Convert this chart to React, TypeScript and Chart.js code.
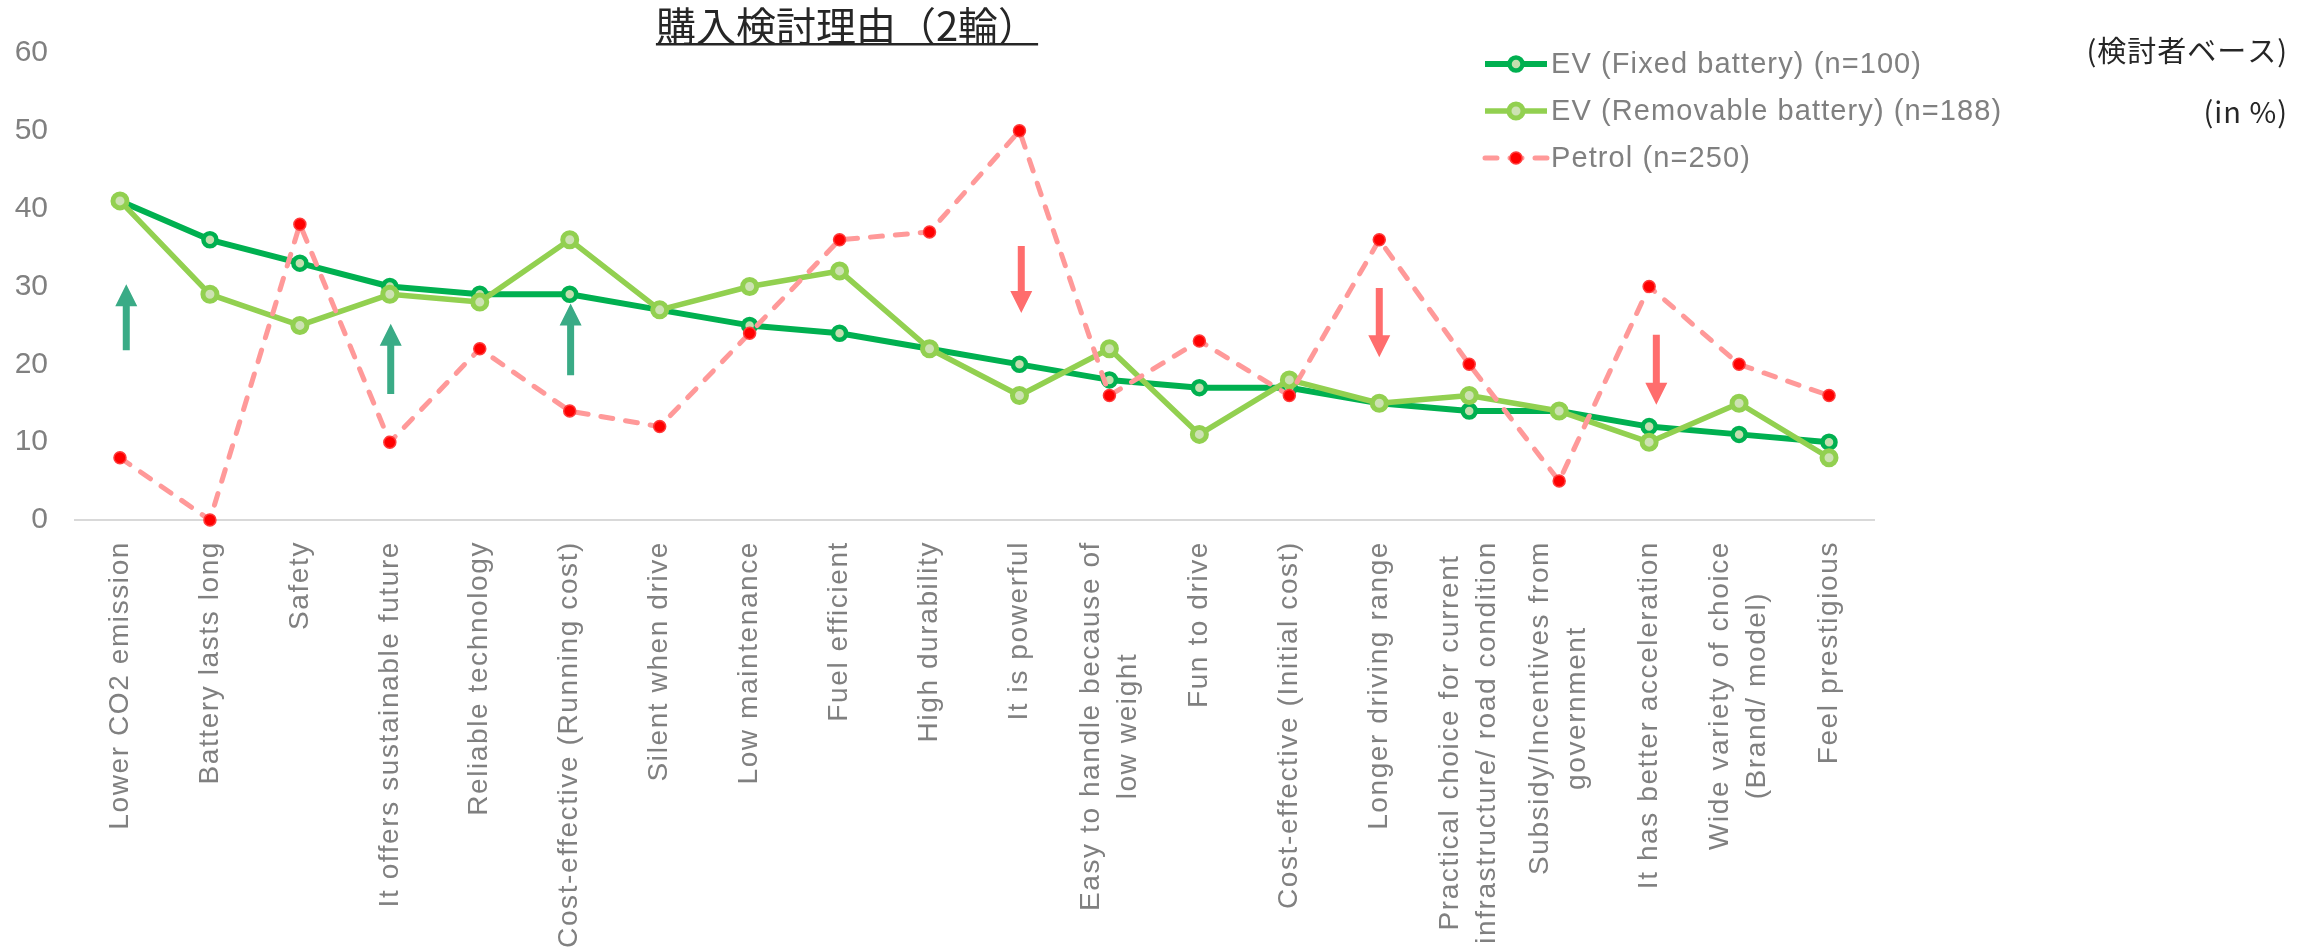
import React, { useEffect, useRef } from "react";
import { Chart, registerables } from "chart.js";

Chart.register(...registerables);

// ---------- text ----------
const TITLE = "購入検討理由（2輪）";
const NOTE_BASE = "(検討者ベース)";
const NOTE_UNIT = "(in %)";

// ---------- categories (each entry = lines of the label) ----------
const CATEGORIES: string[][] = [
  ["Lower CO2 emission"],
  ["Battery lasts long"],
  ["Safety"],
  ["It offers sustainable future"],
  ["Reliable technology"],
  ["Cost-effective (Running cost)"],
  ["Silent when drive"],
  ["Low maintenance"],
  ["Fuel efficient"],
  ["High durability"],
  ["It is powerful"],
  ["Easy to handle because of", "low weight"],
  ["Fun to drive"],
  ["Cost-effective (Initial cost)"],
  ["Longer driving range"],
  ["Practical choice for current", "infrastructure/ road condition"],
  ["Subsidy/Incentives from", "government"],
  ["It has better acceleration"],
  ["Wide variety of choice", "(Brand/ model)"],
  ["Feel prestigious"],
];

// ---------- series ----------
const SERIES_NAMES = [
  "EV (Fixed battery) (n=100)",
  "EV (Removable battery) (n=188)",
  "Petrol (n=250)",
];
const EV_FIXED = [41, 36, 33, 30, 29, 29, 27, 25, 24, 22, 20, 18, 17, 17, 15, 14, 14, 12, 11, 10];
const EV_REMOVABLE = [41, 29, 25, 29, 28, 36, 27, 30, 32, 22, 16, 22, 11, 18, 15, 16, 14, 10, 15, 8];
const PETROL = [8, 0, 38, 10, 22, 14, 12, 24, 36, 37, 50, 16, 23, 16, 36, 20, 5, 30, 20, 16];

// ---------- y axis ----------
const Y_MIN = 0;
const Y_MAX = 60;
const Y_STEP = 10;

// ---------- annotation arrows (category index, small shift, from value, to value) ----------
const UP_ARROW_CATS = [0, 3, 5];
const UP_ARROW_SHIFT = [0.07, 0.01, 0.01];
const UP_ARROW_FROM = [21.8, 16.2, 18.6];
const UP_ARROW_TO = [30.3, 25.2, 27.8];
const DOWN_ARROW_CATS = [10, 14, 17];
const DOWN_ARROW_SHIFT = [0.02, 0.0, 0.08];
const DOWN_ARROW_FROM = [35.2, 29.8, 23.8];
const DOWN_ARROW_TO = [26.6, 20.9, 14.8];

// ---------- styles ----------
const DARK_GREEN = "#00b050";
const LIGHT_GREEN = "#92d050";
const PETROL_LINE = "#ff9999";
const PETROL_POINT = "#ff0000";
const TEAL = "#3aab86";
const SALMON = "#ff6d6d";
const GRAY = "#808080";
const LATIN = '"Liberation Sans", Arial, sans-serif';
const CJK = '"Noto Sans CJK JP", "Noto Sans", sans-serif';

function drawArrow(ctx: CanvasRenderingContext2D, x: number, yFrom: number, yTo: number, color: string) {
  const shaftW = 7;
  const headW = 22;
  const headL = 22;
  const dir = yTo < yFrom ? -1 : 1;
  const headBase = yTo - dir * headL;
  ctx.save();
  ctx.fillStyle = color;
  ctx.beginPath();
  ctx.moveTo(x - shaftW / 2, yFrom);
  ctx.lineTo(x - shaftW / 2, headBase);
  ctx.lineTo(x - headW / 2, headBase);
  ctx.lineTo(x, yTo);
  ctx.lineTo(x + headW / 2, headBase);
  ctx.lineTo(x + shaftW / 2, headBase);
  ctx.lineTo(x + shaftW / 2, yFrom);
  ctx.closePath();
  ctx.fill();
  ctx.restore();
}

const decorPlugin = {
  id: "decor",
  beforeDatasetsDraw(chart: any) {
    const ctx: CanvasRenderingContext2D = chart.ctx;
    const xs = chart.scales.x;
    const ys = chart.scales.y;
    UP_ARROW_CATS.forEach((c, i) => {
      const x = xs.getPixelForValue(c + UP_ARROW_SHIFT[i]);
      drawArrow(ctx, x, ys.getPixelForValue(UP_ARROW_FROM[i]), ys.getPixelForValue(UP_ARROW_TO[i]), TEAL);
    });
    DOWN_ARROW_CATS.forEach((c, i) => {
      const x = xs.getPixelForValue(c + DOWN_ARROW_SHIFT[i]);
      drawArrow(ctx, x, ys.getPixelForValue(DOWN_ARROW_FROM[i]), ys.getPixelForValue(DOWN_ARROW_TO[i]), SALMON);
    });
  },
  afterDraw(chart: any) {
    const ctx: CanvasRenderingContext2D = chart.ctx;
    const xs = chart.scales.x;

    // x-axis category labels (rotated, multi-line blocks centred)
    ctx.save();
    ctx.font = `28px ${LATIN}`;
    (ctx as any).letterSpacing = "1.6px";
    ctx.fillStyle = GRAY;
    ctx.textBaseline = "middle";
    ctx.textAlign = "center";
    CATEGORIES.forEach((lines, i) => {
      const px = xs.getPixelForTick(i);
      const maxW = Math.max(...lines.map((l) => ctx.measureText(l).width));
      ctx.save();
      ctx.translate(px, xs.top + 21);
      ctx.rotate(-Math.PI / 2);
      lines.forEach((l, j) => {
        const off = (j - (lines.length - 1) / 2) * 37;
        ctx.fillText(l, -maxW / 2, off);
      });
      ctx.restore();
    });
    ctx.restore();

    // legend
    const legX0 = 1485;
    const legX1 = 1547;
    const legMX = 1516;
    const legTX = 1551;
    const legY = [64, 111, 158];
    const ds = chart.data.datasets;
    ds.forEach((d: any, i: number) => {
      const y = legY[i];
      ctx.save();
      ctx.strokeStyle = d.borderColor;
      ctx.lineWidth = d.borderWidth;
      ctx.lineCap = d.borderDash ? "round" : "butt";
      ctx.setLineDash(d.borderDash || []);
      ctx.beginPath();
      ctx.moveTo(legX0, y);
      ctx.lineTo(legX1, y);
      ctx.stroke();
      ctx.setLineDash([]);
      ctx.beginPath();
      ctx.arc(legMX, y, d.pointRadius, 0, Math.PI * 2);
      ctx.fillStyle = d.pointBackgroundColor;
      ctx.fill();
      ctx.lineWidth = d.pointBorderWidth;
      ctx.strokeStyle = d.pointBorderColor;
      ctx.stroke();
      ctx.font = `29px ${LATIN}`;
      (ctx as any).letterSpacing = "1.1px";
      ctx.fillStyle = GRAY;
      ctx.textBaseline = "middle";
      ctx.textAlign = "left";
      ctx.fillText(d.label, legTX, y + 1);
      ctx.restore();
    });

    // title with underline
    ctx.save();
    ctx.font = `40px ${CJK}`;
    ctx.fillStyle = "#262626";
    ctx.textBaseline = "middle";
    ctx.textAlign = "center";
    const tcx = 847;
    ctx.fillText(TITLE, tcx, 26);
    const tw = ctx.measureText(TITLE).width;
    ctx.fillRect(tcx - tw / 2, 43, tw, 2.5);
    ctx.restore();

    // notes
    ctx.save();
    ctx.font = `29px ${CJK}`;
    ctx.fillStyle = "#262626";
    ctx.textBaseline = "middle";
    ctx.textAlign = "right";
    (ctx as any).letterSpacing = "1px";
    ctx.fillText(NOTE_BASE, 2288, 51);
    ctx.fillText(NOTE_UNIT, 2288, 112);
    ctx.restore();
  },
};

export default function App() {
  const ref = useRef<HTMLCanvasElement>(null);

  useEffect(() => {
    const canvas = ref.current;
    if (!canvas) return;
    const chart = new Chart(canvas, {
      type: "line",
      data: {
        labels: CATEGORIES,
        datasets: [
          {
            label: SERIES_NAMES[0],
            data: EV_FIXED,
            borderColor: DARK_GREEN,
            borderWidth: 6,
            pointRadius: 6.5,
            pointBorderWidth: 4.5,
            pointBackgroundColor: "#c3dfae",
            pointBorderColor: DARK_GREEN,
            tension: 0,
            order: 3,
            clip: false,
            borderJoinStyle: "round",
          } as any,
          {
            label: SERIES_NAMES[1],
            data: EV_REMOVABLE,
            borderColor: LIGHT_GREEN,
            borderWidth: 5.5,
            pointRadius: 7,
            pointBorderWidth: 5,
            pointBackgroundColor: "#cde2b3",
            pointBorderColor: LIGHT_GREEN,
            tension: 0,
            order: 2,
            clip: false,
            borderJoinStyle: "round",
          } as any,
          {
            label: SERIES_NAMES[2],
            data: PETROL,
            borderColor: PETROL_LINE,
            borderWidth: 5,
            borderDash: [12, 13],
            borderCapStyle: "round",
            pointRadius: 6,
            pointBorderWidth: 1.5,
            pointBackgroundColor: PETROL_POINT,
            pointBorderColor: "#ff3b3b",
            tension: 0,
            order: 1,
            clip: false,
          } as any,
        ],
      },
      options: {
        animation: false,
        responsive: false,
        devicePixelRatio: 1,
        layout: { padding: { left: 0, right: 433, top: 53, bottom: 0 } },
        plugins: {
          legend: { display: false },
          tooltip: { enabled: false },
          title: { display: false },
        },
        scales: {
          x: {
            type: "category",
            offset: true,
            grid: { display: false, drawTicks: false },
            border: { display: true, color: "#d9d9d9", width: 2 },
            ticks: { display: false },
            afterFit: (s: any) => {
              s.height = 430;
            },
          },
          y: {
            min: Y_MIN,
            max: Y_MAX,
            ticks: {
              stepSize: Y_STEP,
              color: GRAY,
              font: { family: LATIN, size: 30 },
              padding: 27,
            },
            grid: { display: false, drawTicks: false },
            border: { display: false },
            afterFit: (s: any) => {
              s.width = 75;
            },
          },
        },
      } as any,
      plugins: [decorPlugin],
    });
    return () => chart.destroy();
  }, []);

  return (
    <div style={{ position: "absolute", left: 0, top: 0, width: 2307, height: 950, background: "#ffffff" }}>
      <canvas ref={ref} width={2307} height={950} style={{ display: "block", width: 2307, height: 950 }} />
    </div>
  );
}
